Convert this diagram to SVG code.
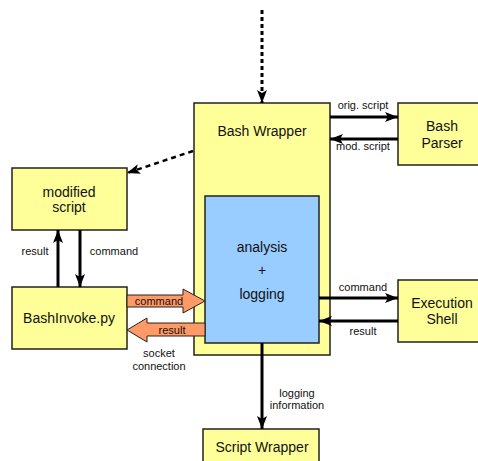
<svg xmlns="http://www.w3.org/2000/svg" width="478" height="461" viewBox="0 0 478 461">
  <style>
    .box { fill: #FFFF99; stroke: #222; stroke-width: 1.5; }
    .core { fill: #99CCFF; stroke: #222; stroke-width: 1.5; }
    .big { font-family: "Liberation Sans", Arial, sans-serif; font-size: 14px; fill: #111; text-anchor: middle; }
    .small { font-family: "Liberation Sans", Arial, sans-serif; font-size: 11px; fill: #111; text-anchor: middle; }
    .wire { stroke: #000; stroke-width: 3; fill: none; }
    .dash { stroke: #000; stroke-width: 3; fill: none; stroke-dasharray: 4 3; }
    .dash2 { stroke: #000; stroke-width: 2.5; fill: none; stroke-dasharray: 5 4; }
    .fat { fill: #FF9966; stroke: #222; stroke-width: 1; }
  </style>
  <defs>
    <marker id="head" markerUnits="userSpaceOnUse" markerWidth="14" markerHeight="12" refX="13" refY="6" orient="auto">
      <path d="M0,1 L13,6 L0,11 L3,6 Z" fill="#000"/>
    </marker>
  </defs>

  <rect width="478" height="461" fill="#fff"/>

  <!-- main wrapper -->
  <g id="bash-wrapper">
    <rect class="box" x="194" y="103" width="136" height="252"/>
    <text class="big" x="262" y="136">Bash Wrapper</text>
  </g>

  <g id="analysis">
    <rect class="core" x="205" y="196" width="114" height="147"/>
    <text class="big" x="262" y="252">analysis</text>
    <text class="big" x="262" y="275">+</text>
    <text class="big" x="262" y="299">logging</text>
  </g>

  <g id="bash-parser">
    <rect class="box" x="398" y="103" width="88" height="62"/>
    <text class="big" x="442" y="131">Bash</text>
    <text class="big" x="442" y="148">Parser</text>
  </g>

  <g id="execution-shell">
    <rect class="box" x="398" y="280" width="88" height="62"/>
    <text class="big" x="442" y="308">Execution</text>
    <text class="big" x="442" y="324">Shell</text>
  </g>

  <g id="modified-script">
    <rect class="box" x="12" y="168" width="115" height="62"/>
    <text class="big" x="69" y="197">modified</text>
    <text class="big" x="69" y="212">script</text>
  </g>

  <g id="bashinvoke">
    <rect class="box" x="12" y="287" width="115" height="62"/>
    <text class="big" x="69" y="323">BashInvoke.py</text>
  </g>

  <g id="script-wrapper">
    <rect class="box" x="203" y="429" width="116" height="40"/>
    <text class="big" x="262" y="452">Script Wrapper</text>
  </g>

  <!-- connectors -->
  <g id="connectors">
    <line class="dash" x1="262" y1="10" x2="262" y2="103" marker-end="url(#head)"/>
    <line class="dash2" x1="193" y1="151" x2="127" y2="173" marker-end="url(#head)"/>

    <line class="wire" x1="330" y1="117" x2="398" y2="117" marker-end="url(#head)"/>
    <text class="small" x="363" y="109">orig. script</text>
    <line class="wire" x1="398" y1="139" x2="330" y2="139" marker-end="url(#head)"/>
    <text class="small" x="363" y="150">mod. script</text>

    <line class="wire" x1="58" y1="287" x2="58" y2="230" marker-end="url(#head)"/>
    <text class="small" x="35" y="255">result</text>
    <line class="wire" x1="80" y1="230" x2="80" y2="287" marker-end="url(#head)"/>
    <text class="small" x="114" y="255">command</text>

    <line class="wire" x1="319" y1="298" x2="398" y2="298" marker-end="url(#head)"/>
    <text class="small" x="363" y="291">command</text>
    <line class="wire" x1="398" y1="321" x2="319" y2="321" marker-end="url(#head)"/>
    <text class="small" x="363" y="335">result</text>

    <line class="wire" x1="262" y1="343" x2="262" y2="429" marker-end="url(#head)"/>
    <text class="small" x="297" y="397">logging</text>
    <text class="small" x="297" y="409">information</text>

    <!-- socket connection -->
    <path class="fat" d="M127,295 L183,295 L183,289 L205,301 L183,313 L183,307 L127,307 Z"/>
    <text class="small" x="159" y="305">command</text>
    <path class="fat" d="M205,323 L147,323 L147,318 L127,330 L147,342 L147,336 L205,336 Z"/>
    <text class="small" x="172" y="334">result</text>
    <text class="small" x="159" y="357">socket</text>
    <text class="small" x="159" y="370">connection</text>
  </g>
</svg>
